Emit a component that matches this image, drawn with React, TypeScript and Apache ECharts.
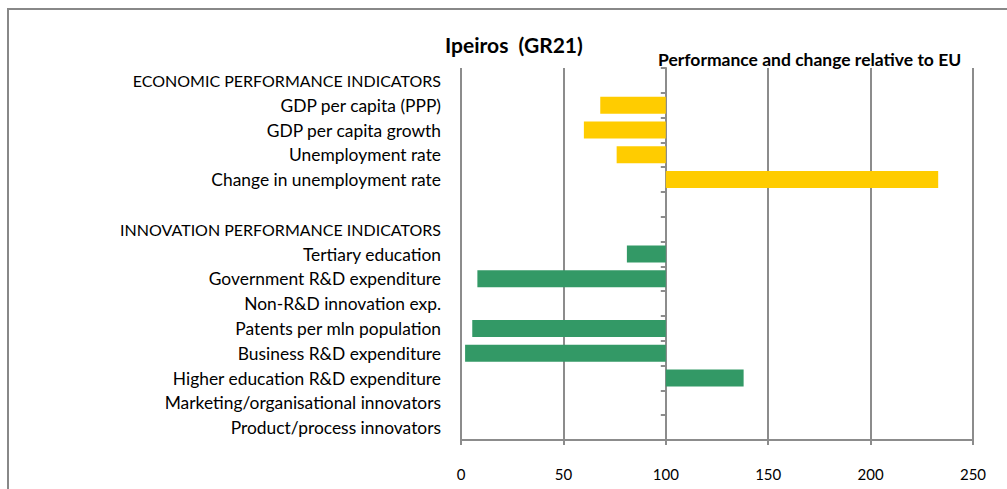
import React, { useEffect, useRef } from "react";
import * as echarts from "echarts";

const economicHeader = "ECONOMIC PERFORMANCE INDICATORS";
const economicLabels = [
  "GDP per capita (PPP)",
  "GDP per capita growth",
  "Unemployment rate",
  "Change in unemployment rate",
];
const economicValues: (number | null)[] = [68, 60, 76, 233];

const innovationHeader = "INNOVATION PERFORMANCE INDICATORS";
const innovationLabels = [
  "Tertiary education",
  "Government R&D expenditure",
  "Non-R&D innovation exp.",
  "Patents per mln population",
  "Business R&D expenditure",
  "Higher education R&D expenditure",
  "Marketing/organisational innovators",
  "Product/process innovators",
];
const innovationValues: (number | null)[] = [81, 8, null, 5.5, 2, 138, null, null];

const xTicks = [0, 50, 100, 150, 200, 250];
const baseline = 100;

const titleText = "Ipeiros  (GR21)";
const subtitleText = "Performance and change relative to EU";

const YELLOW = "#FFCC00";
const GREEN = "#339966";
const GRAY = "#8c8c8c";
const FONT = "Lato";

export default function App() {
  const ref = useRef<HTMLDivElement>(null);

  useEffect(() => {
    document.body.style.margin = "0";
    if (!ref.current) return;
    const chart = echarts.init(ref.current, undefined, { renderer: "svg" });

    const categories: string[] = [
      economicHeader,
      ...economicLabels,
      "",
      innovationHeader,
      ...innovationLabels,
    ];
    const headers = new Set([economicHeader, innovationHeader]);
    const rows: { v: number | null; color: string }[] = [
      { v: null, color: YELLOW },
      ...economicValues.map((v) => ({ v, color: YELLOW })),
      { v: null, color: YELLOW },
      { v: null, color: GREEN },
      ...innovationValues.map((v) => ({ v, color: GREEN })),
    ];

    const baseData = rows.map((r) => (r.v == null ? "-" : Math.min(r.v, baseline)));
    const deltaData = rows.map((r) =>
      r.v == null
        ? "-"
        : { value: Math.abs(r.v - baseline), itemStyle: { color: r.color } }
    );

    const gridLeft = 461;
    const gridRight = 34;
    const plotW = 1007 - gridLeft - gridRight;
    const offsetAt100 =
      -((baseline - xTicks[0]) / (xTicks[xTicks.length - 1] - xTicks[0])) * plotW;

    chart.setOption({
      animation: false,
      textStyle: { fontFamily: FONT },
      graphic: [
        {
          type: "rect",
          shape: { x: 8, y: 9, width: 1010, height: 500 },
          style: { fill: "none", stroke: "#888", lineWidth: 2 },
          silent: true,
        },
      ],
      title: [
        {
          text: titleText,
          left: 445,
          top: 34,
          padding: 0,
          textStyle: { fontFamily: FONT, fontSize: 21, fontWeight: "bold", color: "#000" },
        },
        {
          text: subtitleText,
          left: 658,
          top: 50,
          padding: 0,
          textStyle: { fontFamily: FONT, fontSize: 17.5, fontWeight: "bold", color: "#000" },
        },
      ],
      grid: { left: gridLeft, right: gridRight, top: 68, bottom: 49, containLabel: false },
      xAxis: {
        type: "value",
        min: xTicks[0],
        max: xTicks[xTicks.length - 1],
        interval: 50,
        axisLine: { show: true, lineStyle: { color: GRAY, width: 2 } },
        axisTick: { show: true, length: 5, lineStyle: { color: GRAY, width: 2 } },
        axisLabel: { margin: 26, fontSize: 15, color: "#000", fontFamily: FONT },
        splitLine: { show: true, lineStyle: { color: GRAY, width: 2 } },
      },
      yAxis: [
        {
          type: "category",
          data: categories,
          inverse: true,
          axisLine: { show: false },
          axisTick: { show: false },
          axisLabel: {
            margin: 20,
            fontSize: 16,
            color: "#000",
            fontFamily: FONT,
            formatter: (v: string) => (headers.has(v) ? `{h|${v}}` : v ? `{n|${v}}` : ""),
            rich: {
              h: { fontSize: 16, color: "#000", fontFamily: FONT },
              n: { fontSize: 17.4, color: "#000", fontFamily: FONT },
            },
          },
        },
        {
          type: "category",
          data: categories,
          inverse: true,
          position: "left",
          offset: offsetAt100,
          axisLine: { show: true, onZero: false, lineStyle: { color: GRAY, width: 2 } },
          axisTick: { show: true, length: 5, lineStyle: { color: GRAY, width: 2 } },
          axisLabel: { show: false },
        },
      ],
      series: [
        {
          type: "bar",
          stack: "total",
          data: baseData,
          barWidth: 17,
          itemStyle: { color: "rgba(0,0,0,0)" },
          silent: true,
        },
        {
          type: "bar",
          stack: "total",
          data: deltaData,
          barWidth: 17,
        },
      ],
    });

    return () => chart.dispose();
  }, []);

  return <div ref={ref} style={{ width: 1007, height: 489 }} />;
}
